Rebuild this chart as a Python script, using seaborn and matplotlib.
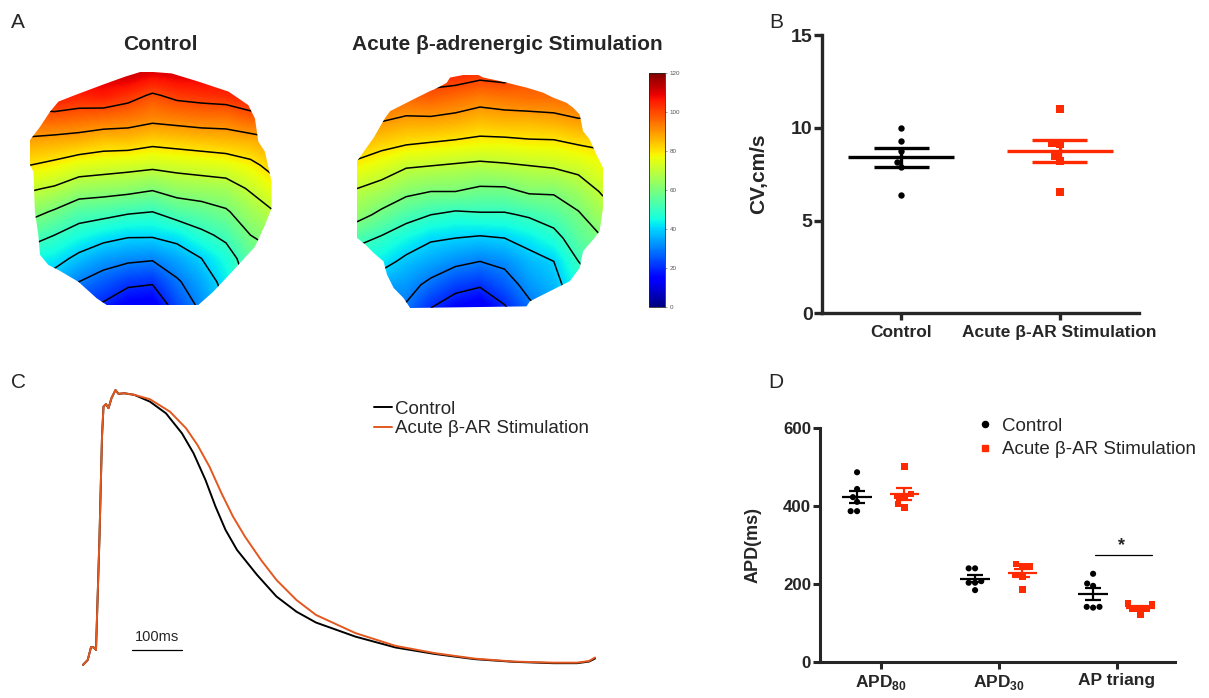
import numpy as np
import pandas as pd
import matplotlib
matplotlib.use("Agg")
import matplotlib.pyplot as plt
from matplotlib.patches import Polygon
from matplotlib.lines import Line2D
import seaborn as sns

sns.set_style("ticks")
plt.rcParams["font.family"] = ["Liberation Sans", "DejaVu Sans"]
plt.rcParams["mathtext.fontset"] = "custom"
plt.rcParams["mathtext.rm"] = "Liberation Sans"
plt.rcParams["mathtext.bf"] = "Liberation Sans:bold"

RED = "#ff2a00"
ORANGE = "#e2581f"

# ---------------- Panel A: activation-time maps (ms), grid rows = top->bottom ----------------
map_u = np.linspace(0, 1, 11)
map_v = np.linspace(0, 1, 11)
act_control = [
    [112, 113, 112, 112, 113, 110, 111, 111, 110, 110, 108],
    [105, 107, 105, 106, 103, 99, 102, 103, 104, 106, 104],
    [97, 97, 96, 95, 94, 92, 93, 94, 94, 97, 95],
    [88, 87, 86, 84, 84, 82, 83, 84, 85, 86, 89],
    [80, 78, 75, 74, 73, 72, 73, 74, 75, 78, 83],
    [71, 69, 65, 64, 63, 61, 64, 65, 66, 71, 77],
    [63, 59, 54, 53, 51, 50, 54, 56, 59, 65, 70],
    [54, 50, 46, 43, 41, 41, 43, 48, 52, 60, 64],
    [45, 43, 38, 34, 32, 31, 35, 40, 46, 55, 58],
    [37, 36, 30, 26, 22, 21, 29, 35, 43, 52, 53],
    [30, 30, 22, 19, 14, 13, 24, 32, 40, 50, 49],
]
act_acute = [
    [100, 100, 101, 104, 104, 102, 103, 100, 100, 99, 98],
    [96, 97, 96, 97, 95, 93, 94, 95, 95, 96, 95],
    [91, 90, 88, 88, 87, 85, 86, 86, 87, 89, 89],
    [85, 82, 80, 79, 78, 77, 77, 78, 78, 80, 81],
    [77, 74, 70, 69, 68, 67, 68, 69, 70, 72, 76],
    [69, 66, 62, 60, 60, 58, 58, 61, 61, 65, 71],
    [63, 58, 53, 50, 48, 49, 49, 51, 54, 59, 66],
    [53, 49, 45, 41, 40, 39, 40, 43, 47, 55, 60],
    [44, 43, 38, 35, 32, 30, 32, 37, 40, 50, 55],
    [36, 35, 33, 28, 23, 21, 26, 33, 37, 46, 51],
    [29, 28, 29, 20, 15, 12, 19, 28, 34, 43, 48],
]
outline_control = [(.45, 0), (.388, .02), (.293, .056), (.184, .099), (.116, .127), (.082, .17),
                   (.041, .235), (0, .292), (0, .40), (.014, .428), (.02, .60), (.034, .70),
                   (.041, .785), (.075, .828), (.116, .85), (.197, .90), (.272, .971), (.313, 1.0),
                   (.687, 1.0), (.748, .943), (.837, .843), (.918, .75), (.959, .657), (.986, .585),
                   (.986, .471), (.959, .342), (.932, .299), (.918, .199), (.891, .142), (.81, .084),
                   (.687, .041), (.578, .006), (.503, 0)]
outline_acute = [(.432, 0), (.493, 0), (.514, .011), (.581, .026), (.689, .054), (.757, .076),
                 (.797, .097), (.851, .119), (.878, .14), (.905, .169), (.919, .241), (.946, .277),
                 (.973, .341), (1, .398), (1, .57), (.986, .67), (.966, .699), (.919, .756),
                 (.905, .828), (.865, .885), (.784, .928), (.703, .971), (.689, .993), (.216, 1.0),
                 (.189, .957), (.149, .914), (.122, .857), (.108, .80), (.068, .764), (.034, .728),
                 (0, .699), (0, .37), (.034, .319), (.068, .269), (.095, .219), (.115, .183),
                 (.135, .155), (.189, .126), (.243, .097), (.297, .069), (.324, .057), (.365, .033),
                 (.378, .011)]
contour_levels = [20, 30, 40, 50, 60, 70, 80, 90, 100]
cbar_ticks = [0, 20, 40, 60, 80, 100, 120]
map_titles = ["Control", "Acute β-adrenergic Stimulation"]

# ---------------- Panel B: conduction velocity ----------------
cv_groups = ["Control", "Acute β-AR Stimulation"]
cv_control = [9.97, 9.29, 8.75, 8.17, 7.90, 6.38]
cv_acute = [11.0, 9.2, 9.15, 8.5, 8.2, 6.55]
cv_ticks = [0, 5, 10, 15]

# ---------------- Panel C: optical action potentials ----------------
t_control = [0, 9.5, 16, 21, 26, 33, 38, 41, 46, 51, 57, 65, 71, 83, 103,
             134, 166, 198, 221, 245, 265, 285, 308, 348, 387, 427, 466, 545, 625, 704, 783, 862, 941, 988, 1012, 1024]
v_control = [-.007, .011, .058, .058, .048, .466, .835, .946, .955, .940, .977, 1.007, .993, .995, .989,
             .964, .921, .847, .774, .675, .577, .491, .417, .325, .245, .189, .149, .097, .057, .033, .014, .004, -.001, -.001, .005, .016]
t_acute = [0, 9.5, 16, 21, 26, 33, 38, 41, 46, 51, 57, 65, 71, 83, 103,
           134, 174, 206, 229, 253, 277, 300, 324, 356, 387, 427, 466, 545, 625, 704, 783, 862, 941, 988, 1012, 1024]
v_acute = [-.007, .011, .058, .058, .048, .466, .835, .946, .955, .940, .977, 1.007, .993, .995, .989,
           .973, .927, .866, .804, .724, .626, .540, .466, .380, .306, .232, .177, .110, .063, .036, .016, .005, .001, .001, .007, .020]
scale_bar_ms = 100

# ---------------- Panel D: APD ----------------
apd_measures = ["APD80", "APD30", "AP triang"]
apd_labels = [r"APD$_{\mathbf{80}}$", r"APD$_{\mathbf{30}}$", "AP triang"]
apd_control = {"APD80": [487, 444, 423, 411, 387, 387],
               "APD30": [240, 240, 207, 203, 203, 184],
               "AP triang": [226, 201, 195, 141, 139, 141]}
apd_acute = {"APD80": [501, 431, 426, 426, 405, 397],
             "APD30": [251, 244, 244, 223, 219, 186],
             "AP triang": [150, 147, 137, 137, 137, 120]}
apd_ticks = [0, 200, 400, 600]
sig_level = 275

W, H = 1209, 698
fig = plt.figure(figsize=(W / 100, H / 100), dpi=100)


def box(x0, y0, x1, y1):
    return [x0 / W, 1 - y1 / H, (x1 - x0) / W, (y1 - y0) / H]


def draw_map(rect, grid, outline):
    ax = fig.add_axes(rect)
    g = np.array(grid, float)
    im = ax.imshow(g, cmap="jet", vmin=0, vmax=120, extent=(-0.05, 1.05, 1.05, -0.05),
                   interpolation="bilinear", aspect="auto")
    cs = ax.contour(map_u, map_v, g, levels=contour_levels, colors="black", linewidths=1.1)
    patch = Polygon(np.array(outline), closed=True, transform=ax.transData, fc="none", ec="none")
    ax.add_patch(patch)
    im.set_clip_path(patch)
    cs.set_clip_path(patch)
    ax.set_xlim(0, 1)
    ax.set_ylim(1, 0)
    ax.axis("off")
    return im


draw_map(box(30, 72, 275, 305), act_control, outline_control)
im = draw_map(box(357, 75, 603, 308), act_acute, outline_acute)
narrow = ["Liberation Sans Narrow", "Liberation Sans", "DejaVu Sans"]
fig.text(160 / W, 1 - 45 / H, map_titles[0], ha="center", va="center", fontsize=15,
         fontweight="bold", family=narrow)
fig.text(507 / W, 1 - 45 / H, map_titles[1], ha="center", va="center", fontsize=15,
         fontweight="bold", family=narrow)
cax = fig.add_axes(box(649, 73, 665, 307))
cb = fig.colorbar(im, cax=cax, ticks=cbar_ticks)
cb.ax.tick_params(labelsize=4.5, colors="#555555", length=1.5, width=0.4, pad=2)
cb.outline.set_linewidth(0.6)

# ---------------- Panel B ----------------
axB = fig.add_axes(box(822, 35, 1139, 313.5))
cv_df = pd.DataFrame({"group": [cv_groups[0]] * len(cv_control) + [cv_groups[1]] * len(cv_acute),
                      "cv": cv_control + cv_acute})
sns.swarmplot(data=cv_df[cv_df.group == cv_groups[0]], x="group", y="cv", order=cv_groups,
              color="black", marker="o", size=4.6, ax=axB, zorder=3)
sns.swarmplot(data=cv_df[cv_df.group == cv_groups[1]], x="group", y="cv", order=cv_groups,
              color=RED, marker="s", size=5.2, ax=axB, zorder=3)
for i, (vals, col) in enumerate([(cv_control, "black"), (cv_acute, RED)]):
    m = np.mean(vals)
    s = np.std(vals, ddof=1) / np.sqrt(len(vals))
    axB.hlines(m, i - 0.333, i + 0.333, color=col, lw=2.4, zorder=4)
    axB.hlines([m - s, m + s], i - 0.173, i + 0.173, color=col, lw=2.4, zorder=4)
    axB.vlines(i, m - s, m + s, color=col, lw=2.4, zorder=4)
axB.set_xlim(-0.5, 1.5)
axB.set_ylim(0, 15)
axB.set_yticks(cv_ticks)
axB.set_xlabel("")
axB.set_ylabel("CV,cm/s", fontsize=15, fontweight="bold")
axB.yaxis.set_label_coords(-0.17, 0.5)
for sp in ["top", "right"]:
    axB.spines[sp].set_visible(False)
for sp in ["left", "bottom"]:
    axB.spines[sp].set_linewidth(2.4)
axB.tick_params(axis="y", direction="out", length=5.8, width=2.4, labelsize=14, pad=1)
axB.tick_params(axis="x", direction="out", length=4.8, width=2.4, labelsize=12.5, pad=3.5)
for lab in axB.get_xticklabels() + axB.get_yticklabels():
    lab.set_fontweight("bold")

# ---------------- Panel C ----------------
axC = fig.add_axes(box(70, 380, 610, 680))
sns.lineplot(x=t_control, y=v_control, color="black", lw=1.4, sort=False, estimator=None, ax=axC)
sns.lineplot(x=t_acute, y=v_acute, color=ORANGE, lw=1.4, sort=False, estimator=None, ax=axC)
axC.set_xlim(-26, 1054)
axC.set_ylim(-0.063, 1.044)
axC.axis("off")
axC.plot([98, 98 + scale_bar_ms], [0.048, 0.048], color="black", lw=0.9)
axC.text(98 + scale_bar_ms / 2, 0.068, f"{scale_bar_ms}ms", ha="center", va="bottom", fontsize=10.5)
c_handles = [Line2D([], [], color="black", lw=1.4), Line2D([], [], color=ORANGE, lw=1.4)]
fig.legend(c_handles, ["Control", "Acute β-AR Stimulation"], loc="center left",
           bbox_to_anchor=(374 / W, 1 - 419 / H), frameon=False, fontsize=13.5,
           handlelength=0.96, handletextpad=0.16, labelspacing=0.12, borderpad=0, borderaxespad=0)

# ---------------- Panel D ----------------
axD = fig.add_axes(box(820, 428.3, 1175, 661.7))
rows = []
for meas in apd_measures:
    for v in apd_control[meas]:
        rows.append((meas, "Control", v))
    for v in apd_acute[meas]:
        rows.append((meas, "Acute", v))
apd_df = pd.DataFrame(rows, columns=["measure", "group", "apd"])
hue_order = ["Control", "Acute"]
pal = {"Control": "black", "Acute": RED}
sns.swarmplot(data=apd_df[apd_df.group == "Control"], x="measure", y="apd", order=apd_measures,
              hue="group", hue_order=hue_order, palette=pal, dodge=True, marker="o", size=4.4,
              legend=False, ax=axD, zorder=3)
sns.swarmplot(data=apd_df[apd_df.group == "Acute"], x="measure", y="apd", order=apd_measures,
              hue="group", hue_order=hue_order, palette=pal, dodge=True, marker="s", size=4.8,
              legend=False, ax=axD, zorder=3)
for i, meas in enumerate(apd_measures):
    for off, vals, col in [(-0.2, apd_control[meas], "black"), (0.2, apd_acute[meas], RED)]:
        m = np.mean(vals)
        s = np.std(vals, ddof=1) / np.sqrt(len(vals))
        c = i + off
        axD.hlines(m, c - 0.125, c + 0.125, color=col, lw=1.6, zorder=4)
        axD.hlines([m - s, m + s], c - 0.066, c + 0.066, color=col, lw=1.6, zorder=4)
        axD.vlines(c, m - s, m + s, color=col, lw=1.6, zorder=4)
axD.plot([2 - 0.18, 2 + 0.3], [sig_level, sig_level], color="black", lw=0.9)
axD.text(2.04, sig_level + 2, "*", ha="center", va="bottom", fontsize=13, fontweight="bold")
axD.set_xlim(-0.514, 2.494)
axD.set_ylim(0, 600)
axD.set_yticks(apd_ticks)
axD.set_xticks(range(len(apd_measures)))
axD.set_xticklabels(apd_labels)
axD.set_xlabel("")
axD.set_ylabel("APD(ms)", fontsize=13, fontweight="bold")
axD.yaxis.set_label_coords(-0.165, 0.5)
for sp in ["top", "right"]:
    axD.spines[sp].set_visible(False)
for sp in ["left", "bottom"]:
    axD.spines[sp].set_linewidth(2.2)
axD.tick_params(axis="y", direction="out", length=5.3, width=2.2, labelsize=12.2, pad=1)
axD.tick_params(axis="x", direction="out", length=4.8, width=2.2, labelsize=12.5, pad=3)
for lab in axD.get_xticklabels() + axD.get_yticklabels():
    lab.set_fontweight("bold")
d_handles = [Line2D([], [], ls="none", marker="o", color="black", markersize=4.4),
             Line2D([], [], ls="none", marker="s", color=RED, markersize=4.8)]
fig.legend(d_handles, ["Control", "Acute β-AR Stimulation"], loc="center left",
           bbox_to_anchor=(977.5 / W, 1 - 438 / H), frameon=False, fontsize=13.5,
           handlelength=0.8, handletextpad=0.5, labelspacing=0.33, borderpad=0, borderaxespad=0)

# ---------------- Panel letters ----------------
for letter, (px, py) in zip("ABCD", [(18, 22), (776, 22), (18, 383), (776, 383)]):
    fig.text(px / W, 1 - py / H, letter, ha="center", va="center", fontsize=15)

fig.savefig("out.png", dpi=100)
